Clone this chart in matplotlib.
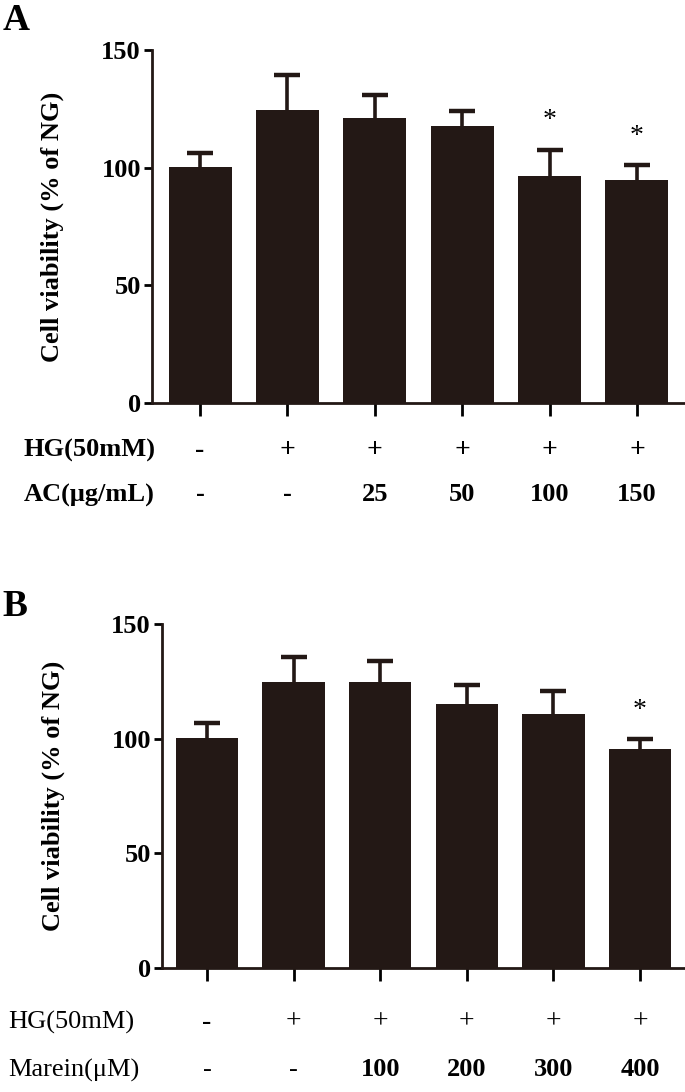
import numpy as np
import matplotlib
matplotlib.use("Agg")
import matplotlib.pyplot as plt
from matplotlib.transforms import blended_transform_factory

plt.rcParams["font.family"] = ["Liberation Serif", "DejaVu Serif"]

# Panel A data
a_mean = [100.4, 124.6, 121.0, 117.8, 96.6, 94.7]
a_top = [106.1, 139.5, 131.0, 123.9, 107.5, 100.9]
a_star = [False, False, False, False, True, True]
a_hg = ["-", "+", "+", "+", "+", "+"]
a_dose = ["-", "-", "25", "50", "100", "150"]

# Panel B data
b_mean = [100.4, 124.7, 124.5, 115.0, 110.6, 95.6]
b_top = [107.0, 135.6, 133.9, 123.3, 120.8, 100.0]
b_star = [False, False, False, False, False, True]
b_hg = ["-", "+", "+", "+", "+", "+"]
b_dose = ["-", "-", "100", "200", "300", "400"]

yticks = [0, 50, 100, 150]
bar_color = "#231815"

fig = plt.figure(figsize=(6.85, 10.92), dpi=100)


def draw_panel(rect, means, tops, stars, hg, dose, row1, row2, letter,
               letter_y, row_x, row_y, bold_rows, xpad, ylab_x):
    ax = fig.add_axes(rect)
    x = np.arange(len(means))
    means = np.array(means)
    tops = np.array(tops)
    ax.bar(x, means, width=0.72, color=bar_color, zorder=3)
    # upper error only: stem + cap
    ax.vlines(x, means, tops, color=bar_color, linewidth=2.6, zorder=1)
    ax.plot(x, tops, linestyle="none", marker="_", markersize=19,
            markeredgewidth=3.2, color=bar_color, zorder=1)
    for xi, t, s in zip(x, tops, stars):
        if s:
            ax.text(xi, t + 7, "*", ha="center", va="bottom", fontsize=20)
    ax.set_xlim(-xpad, len(means) - 1 + xpad)
    ax.set_ylim(0, 150)
    ax.set_yticks(yticks)
    ax.set_xticks(x)
    ax.set_xticklabels([])
    for sp in ["top", "right"]:
        ax.spines[sp].set_visible(False)
    for sp in ["left", "bottom"]:
        ax.spines[sp].set_linewidth(2.0)
        ax.spines[sp].set_color(bar_color)
    ax.tick_params(axis="y", length=6, width=2.0, labelsize=19, pad=2)
    ax.tick_params(axis="x", length=9, width=2.0)
    for lab in ax.get_yticklabels():
        lab.set_fontweight("bold")
    ax.set_ylabel("Cell viability (% of NG)", fontsize=19, fontweight="bold")
    ax.yaxis.set_label_coords(ylab_x, 0.5)

    trans = blended_transform_factory(ax.transData, fig.transFigure)
    w1, w2 = bold_rows
    fig.text(row_x, row_y[0], row1, fontsize=19, fontweight=w1,
             va="center", ha="left")
    fig.text(row_x, row_y[1], row2, fontsize=19, fontweight=w1,
             va="center", ha="left")
    for xi, h, d in zip(x, hg, dose):
        ax.text(xi, row_y[0], h, transform=trans, fontsize=20,
                fontweight=w1, ha="center", va="center")
        dw = w2 if d != "-" else w1
        ax.text(xi, row_y[1], d, transform=trans, fontsize=19,
                fontweight=dw, ha="center", va="center")
    fig.text(0.004, letter_y, letter, fontsize=27, fontweight="bold",
             va="center", ha="left")
    return ax


draw_panel([0.222, 0.631, 0.778, 0.3233], a_mean, a_top, a_star, a_hg, a_dose,
           "HG(50mM)", "AC(\u03bcg/mL)", "A", 1 - 20 / 1092, 0.035,
           (1 - 450 / 1092, 1 - 495 / 1092), ("bold", "bold"), 0.55, -0.165)
draw_panel([0.2365, 0.1136, 0.7635, 0.315], b_mean, b_top, b_star, b_hg, b_dose,
           "HG(50mM)", "Marein(\u03bcM)", "B", 1 - 607 / 1092, 0.012,
           (1 - 1022 / 1092, 1 - 1070 / 1092), ("normal", "bold"), 0.52, -0.185)

fig.savefig("out.png", dpi=100)
